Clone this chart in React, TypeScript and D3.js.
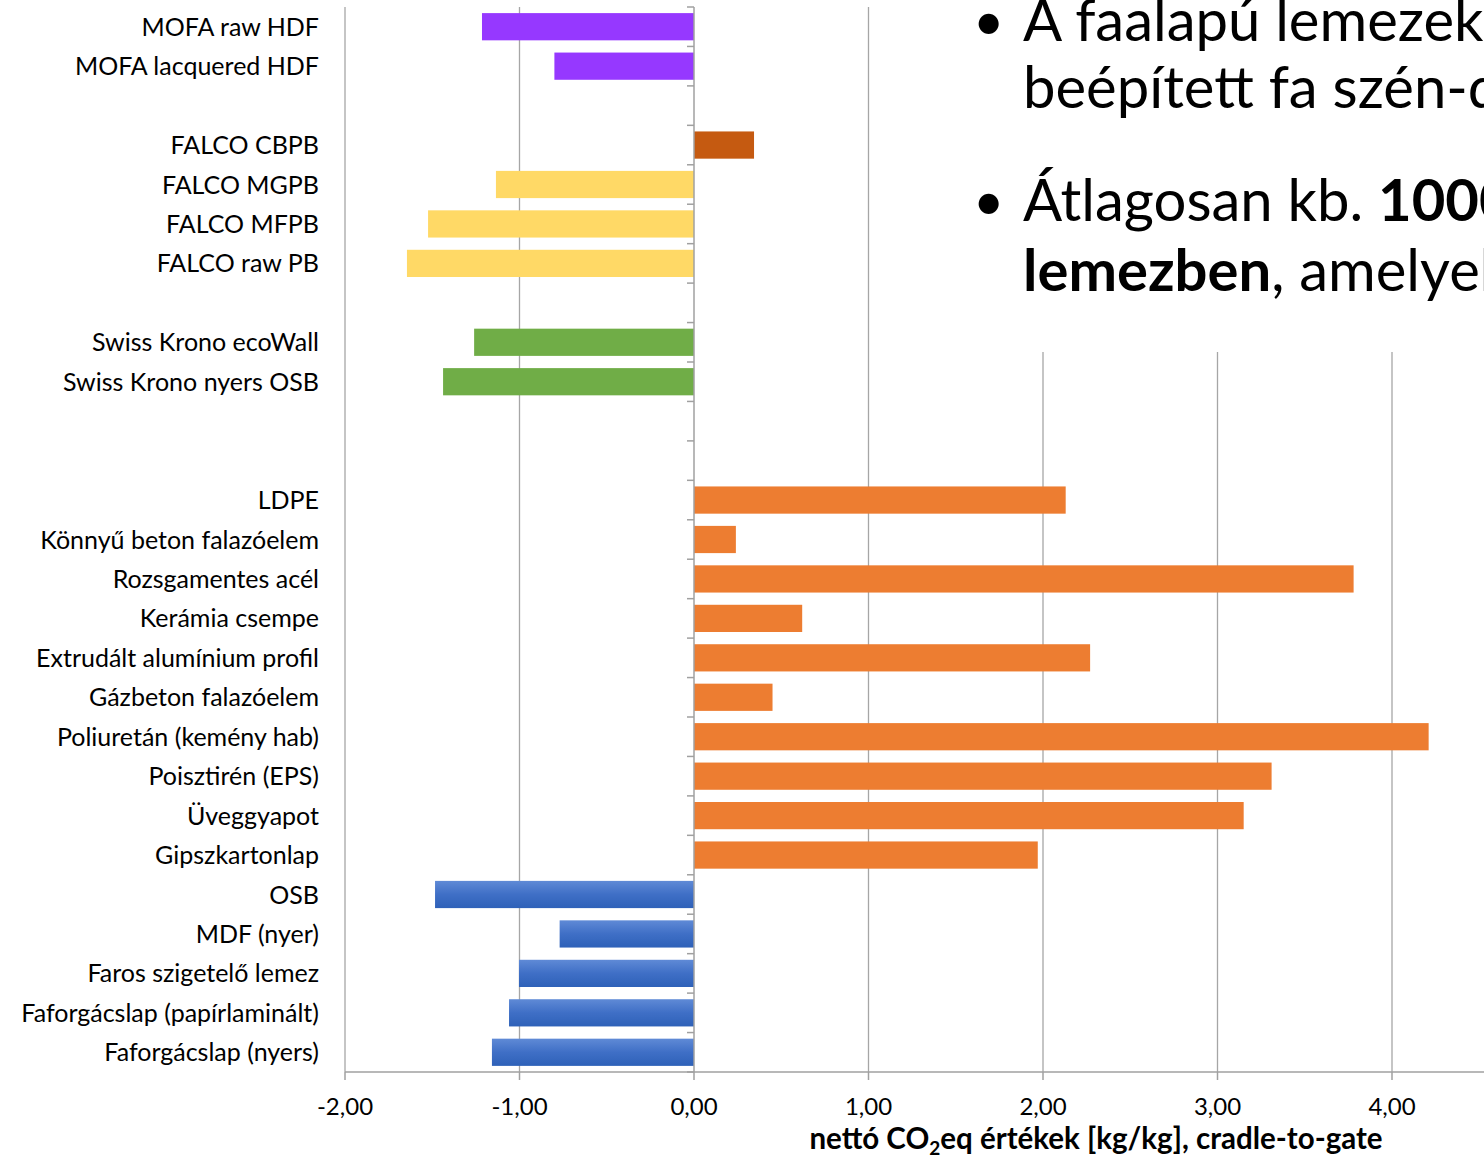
import React from 'react';
import * as d3 from 'd3';

// nettó CO2eq, cradle-to-gate, horizontal bars (top to bottom)

const categories = [
  'MOFA raw HDF', 'MOFA lacquered HDF', '',
  'FALCO CBPB', 'FALCO MGPB', 'FALCO MFPB', 'FALCO raw PB', '',
  'Swiss Krono ecoWall', 'Swiss Krono nyers OSB', '', '',
  'LDPE', 'Könnyű beton falazóelem', 'Rozsgamentes acél', 'Kerámia csempe',
  'Extrudált alumínium profil', 'Gázbeton falazóelem', 'Poliuretán (kemény hab)',
  'Poisztirén (EPS)', 'Üveggyapot', 'Gipszkartonlap',
  'OSB', 'MDF (nyer)', 'Faros szigetelő lemez', 'Faforgácslap (papírlaminált)', 'Faforgácslap (nyers)',
];

const values: (number | null)[] = [
  -1.215, -0.8, null,
  0.344, -1.135, -1.524, -1.645, null,
  -1.26, -1.438, null, null,
  2.13, 0.24, 3.78, 0.62,
  2.27, 0.45, 4.21,
  3.31, 3.15, 1.97,
  -1.484, -0.77, -1.003, -1.06, -1.158,
];

const groups = [
  'mofa', 'mofa', '',
  'cbpb', 'falco', 'falco', 'falco', '',
  'swiss', 'swiss', '', '',
  'other', 'other', 'other', 'other',
  'other', 'other', 'other',
  'other', 'other', 'other',
  'wood', 'wood', 'wood', 'wood', 'wood',
];

const groupColors: Record<string, string> = {
  mofa: '#9638FF',
  cbpb: '#C55A11',
  falco: '#FFD966',
  swiss: '#70AD47',
  other: '#ED7D31',
  wood: 'url(#blueGrad)',
};

const xTicks = [-2, -1, 0, 1, 2, 3, 4];

const W = 1484;
const H = 1161;
const FONT = 'Lato, "Open Sans", sans-serif';

export default function App() {
  const plotTop = 7;
  const plotBottom = 1072;

  const x = d3.scaleLinear().domain([-2, 5]).range([345, 345 + 7 * 174.5]);
  const y = d3
    .scaleBand<number>()
    .domain(d3.range(categories.length))
    .range([plotTop, plotBottom])
    .paddingInner(0.31)
    .paddingOuter(0.155);

  const step = y.step();
  const fmt = (v: number) => d3.format('.2f')(v).replace('.', ',').replace('−', '-');
  const x0 = x(0);

  return (
    <div style={{ position: 'absolute', left: 0, top: 0, width: W, height: H, overflow: 'hidden', background: '#fff' }}>
      <svg width={W} height={H} style={{ display: 'block' }} fontFamily={FONT}>
        <defs>
          <linearGradient id="blueGrad" x1="0" y1="0" x2="0" y2="1">
            <stop offset="0" stopColor="#5F8AD6" />
            <stop offset="0.5" stopColor="#3F6FC6" />
            <stop offset="1" stopColor="#2E61B8" />
          </linearGradient>
        </defs>

        {/* gridlines */}
        {xTicks.filter(t => t !== 0).map(t => (
          <line key={t} x1={x(t)} x2={x(t)} y1={plotTop} y2={plotBottom} stroke="#A6A6A6" strokeWidth={1.3} />
        ))}

        {/* bars */}
        {values.map((v, i) =>
          v == null ? null : (
            <rect
              key={i}
              x={Math.min(x(v), x0)}
              y={y(i)}
              width={Math.abs(x(v) - x0)}
              height={y.bandwidth()}
              fill={groupColors[groups[i]]}
            />
          )
        )}

        {/* y axis at zero with category ticks */}
        <line x1={x0} x2={x0} y1={plotTop} y2={plotBottom} stroke="#A0A0A0" strokeWidth={1.5} />
        {d3.range(categories.length + 1).map(i => (
          <line key={i} x1={x0 - 7} x2={x0} y1={plotTop + i * step} y2={plotTop + i * step} stroke="#A0A0A0" strokeWidth={1.5} />
        ))}

        {/* x axis */}
        <line x1={x(-2)} x2={W} y1={plotBottom} y2={plotBottom} stroke="#A0A0A0" strokeWidth={1.5} />
        {xTicks.map(t => (
          <g key={t}>
            <line x1={x(t)} x2={x(t)} y1={plotBottom} y2={plotBottom + 8} stroke="#A0A0A0" strokeWidth={1.5} />
            <text x={x(t)} y={1115} textAnchor="middle" fontSize={24} fill="#000">{fmt(t)}</text>
          </g>
        ))}

        {/* category labels */}
        {categories.map((c, i) =>
          c ? (
            <text key={i} x={319} y={(y(i) as number) + y.bandwidth() / 2 + 9} textAnchor="end" fontSize={25} fill="#000">
              {c}
            </text>
          ) : null
        )}

        {/* axis title */}
        <text x={1096} y={1149} textAnchor="middle" fontSize={29.5} fontWeight="bold" fill="#000">
          nettó CO<tspan fontSize={19} dy={6}>2</tspan><tspan dy={-6}>eq értékek [kg/kg], cradle-to-gate</tspan>
        </text>

        {/* slide text overlapping the chart */}
        <rect x={955} y={0} width={W - 955} height={352} fill="#fff" />
        <g fontSize={58} fill="#000">
          <text x={973} y={40} fontSize={54}>•</text>
          <text x={1023} y={41}>A faalapú lemezekben</text>
          <text x={1023} y={108}>beépített fa szén-dioxidot</text>
          <text x={973} y={220} fontSize={54}>•</text>
          <text x={1023} y={221}>Átlagosan kb. <tspan fontWeight="bold">1000 kg</tspan></text>
          <text x={1023} y={291}><tspan fontWeight="bold">lemezben</tspan>, amelyek</text>
        </g>
      </svg>
    </div>
  );
}
